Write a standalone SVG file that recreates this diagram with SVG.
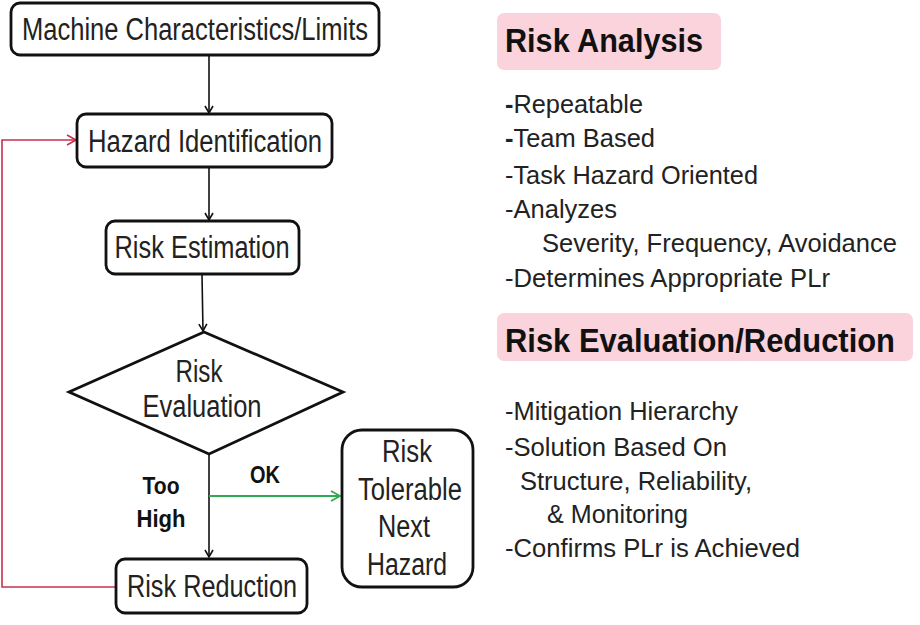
<svg xmlns="http://www.w3.org/2000/svg" width="920" height="625" viewBox="0 0 920 625">
<defs>
<style>
.box{fill:#fff;stroke:#111;stroke-width:2.8}
.t{font-family:"Liberation Sans",Arial,sans-serif;font-size:31px;fill:#222}
.c{text-anchor:middle}
.lbl{font-family:"Liberation Sans",Arial,sans-serif;font-size:23px;font-weight:bold;fill:#111;text-anchor:middle}
.hd{font-family:"Liberation Sans",Arial,sans-serif;font-size:33px;font-weight:bold;fill:#111}
.li{font-family:"Liberation Sans",Arial,sans-serif;font-size:25px;fill:#222}
.pink{fill:#fad3dc}
.conn{fill:none;stroke:#111;stroke-width:1.6}
</style>
<marker id="ab" markerWidth="10" markerHeight="10" refX="8" refY="5" orient="auto" markerUnits="userSpaceOnUse">
<path d="M1,1 L8,5 L1,9" fill="none" stroke="#111" stroke-width="1.6"/>
</marker>
<marker id="ag" markerWidth="12" markerHeight="12" refX="10" refY="6" orient="auto" markerUnits="userSpaceOnUse">
<path d="M1,1 L10,6 L1,11" fill="none" stroke="#2eaa50" stroke-width="1.8"/>
</marker>
<marker id="ar" markerWidth="12" markerHeight="12" refX="10" refY="6" orient="auto" markerUnits="userSpaceOnUse">
<path d="M1,1 L10,6 L1,11" fill="none" stroke="#c8304e" stroke-width="1.6"/>
</marker>
</defs>

<g id="connectors">
<line class="conn" x1="209" y1="56" x2="209" y2="113" marker-end="url(#ab)"/>
<line class="conn" x1="209" y1="168" x2="209" y2="220" marker-end="url(#ab)"/>
<line class="conn" x1="202" y1="275" x2="203" y2="331" marker-end="url(#ab)"/>
<line class="conn" x1="209" y1="455" x2="209" y2="557" marker-end="url(#ab)"/>
<line x1="209" y1="496" x2="340" y2="496" fill="none" stroke="#2eaa50" stroke-width="1.8" marker-end="url(#ag)"/>
<polyline points="116,587 2,587 2,140 76,140" fill="none" stroke="#c8304e" stroke-width="1.6" marker-end="url(#ar)"/>
<text class="lbl" x="265" y="483" textLength="30" lengthAdjust="spacingAndGlyphs">OK</text>
<text class="lbl" x="161" y="494" textLength="37" lengthAdjust="spacingAndGlyphs">Too</text>
<text class="lbl" x="161" y="527" textLength="49" lengthAdjust="spacingAndGlyphs">High</text>
</g>

<g id="machine">
<rect class="box" x="11" y="3" width="368" height="52" rx="9"/>
<text class="t c" x="195" y="40" textLength="346" lengthAdjust="spacingAndGlyphs">Machine Characteristics/Limits</text>
</g>

<g id="hazard-identification">
<rect class="box" x="77" y="114" width="255" height="53" rx="9"/>
<text class="t c" x="205" y="152" textLength="234" lengthAdjust="spacingAndGlyphs">Hazard Identification</text>
</g>

<g id="risk-estimation">
<rect class="box" x="106" y="221" width="193" height="53" rx="9"/>
<text class="t c" x="202" y="258" textLength="175" lengthAdjust="spacingAndGlyphs">Risk Estimation</text>
</g>

<g id="risk-evaluation">
<polygon class="box" points="204,332 343,392 209,454 69,392"/>
<text class="t c" x="199" y="382" textLength="47" lengthAdjust="spacingAndGlyphs">Risk</text>
<text class="t c" x="202" y="417" textLength="119" lengthAdjust="spacingAndGlyphs">Evaluation</text>
</g>

<g id="risk-tolerable">
<rect class="box" x="342" y="430" width="131" height="157" rx="20"/>
<text class="t c" x="407" y="462" textLength="50" lengthAdjust="spacingAndGlyphs">Risk</text>
<text class="t c" x="410" y="500" textLength="104" lengthAdjust="spacingAndGlyphs">Tolerable</text>
<text class="t c" x="404" y="537" textLength="52" lengthAdjust="spacingAndGlyphs">Next</text>
<text class="t c" x="407" y="575" textLength="80" lengthAdjust="spacingAndGlyphs">Hazard</text>
</g>

<g id="risk-reduction">
<rect class="box" x="116" y="559" width="191" height="54" rx="9"/>
<text class="t c" x="212" y="597" textLength="170" lengthAdjust="spacingAndGlyphs">Risk Reduction</text>
</g>

<g id="risk-analysis-panel">
<rect class="pink" x="497" y="13" width="224" height="57" rx="7"/>
<text class="hd" x="505" y="52" textLength="198" lengthAdjust="spacingAndGlyphs">Risk Analysis</text>
<text class="li" x="505" y="113" textLength="138" lengthAdjust="spacingAndGlyphs"><tspan font-weight="bold">-</tspan>Repeatable</text>
<text class="li" x="505" y="147" textLength="150" lengthAdjust="spacingAndGlyphs"><tspan font-weight="bold">-</tspan>Team Based</text>
<text class="li" x="505" y="184" textLength="253" lengthAdjust="spacingAndGlyphs">-Task Hazard Oriented</text>
<text class="li" x="505" y="218" textLength="112" lengthAdjust="spacingAndGlyphs">-Analyzes</text>
<text class="li" x="542" y="252" textLength="355" lengthAdjust="spacingAndGlyphs">Severity, Frequency, Avoidance</text>
<text class="li" x="505" y="287" textLength="325" lengthAdjust="spacingAndGlyphs">-Determines Appropriate PLr</text>
</g>

<g id="risk-evaluation-panel">
<rect class="pink" x="497" y="313" width="416" height="48" rx="7"/>
<text class="hd" x="505" y="352" textLength="390" lengthAdjust="spacingAndGlyphs">Risk Evaluation/Reduction</text>
<text class="li" x="505" y="420" textLength="233" lengthAdjust="spacingAndGlyphs">-Mitigation Hierarchy</text>
<text class="li" x="505" y="456" textLength="222" lengthAdjust="spacingAndGlyphs">-Solution Based On</text>
<text class="li" x="520" y="490" textLength="232" lengthAdjust="spacingAndGlyphs">Structure, Reliability,</text>
<text class="li" x="547" y="523" textLength="141" lengthAdjust="spacingAndGlyphs">&amp; Monitoring</text>
<text class="li" x="505" y="557" textLength="295" lengthAdjust="spacingAndGlyphs">-Confirms PLr is Achieved</text>
</g>
</svg>
